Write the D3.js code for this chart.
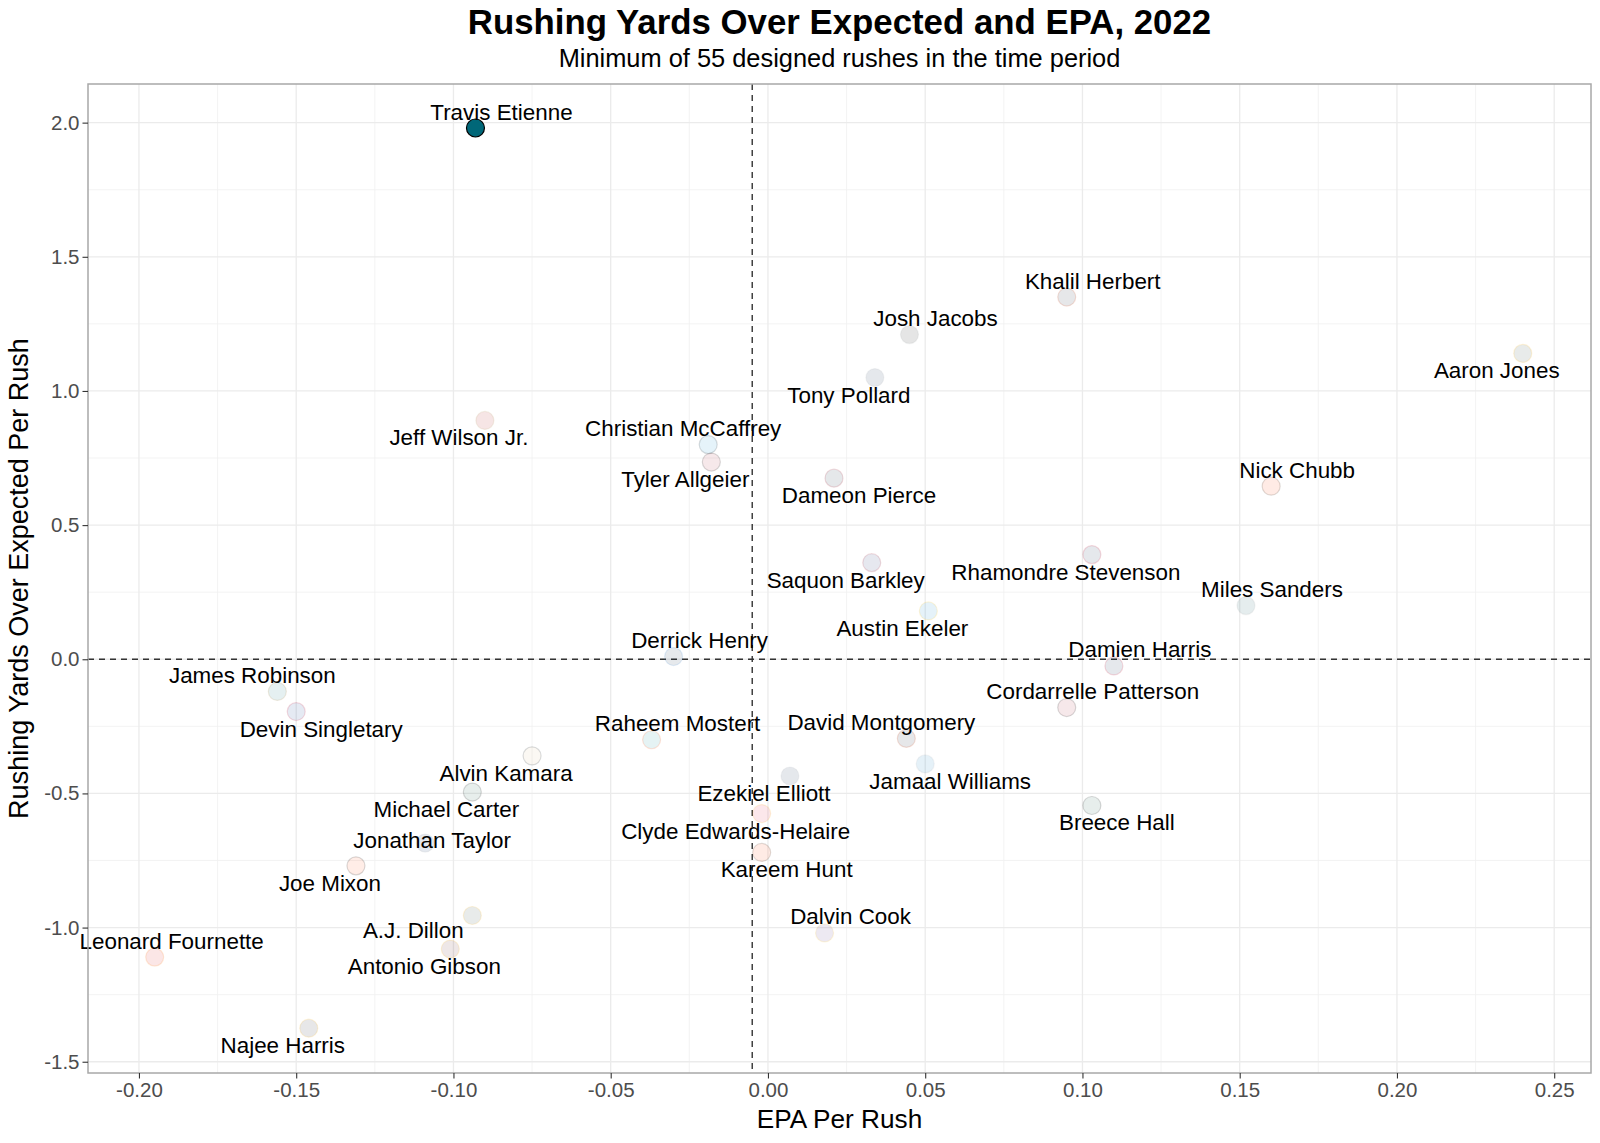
<!DOCTYPE html>
<html>
<head>
<meta charset="utf-8">
<script src="https://cdn.jsdelivr.net/npm/d3@7"></script>
<style>
  html, body { margin: 0; padding: 0; background: #ffffff; }
  svg { display: block; font-family: "Liberation Sans", Arial, Helvetica, sans-serif; }
</style>
</head>
<body>
<svg id="chart" width="1600" height="1143"></svg>
<script>
// ---------------- DATA ----------------
const players = ["Travis Etienne","Khalil Herbert","Josh Jacobs","Aaron Jones","Tony Pollard","Jeff Wilson Jr.",
  "Christian McCaffrey","Tyler Allgeier","Dameon Pierce","Nick Chubb","Rhamondre Stevenson","Saquon Barkley",
  "Miles Sanders","Austin Ekeler","Derrick Henry","Damien Harris","James Robinson","Cordarrelle Patterson",
  "Devin Singletary","David Montgomery","Raheem Mostert","Alvin Kamara","Jamaal Williams","Ezekiel Elliott",
  "Michael Carter","Breece Hall","Clyde Edwards-Helaire","Jonathan Taylor","Joe Mixon","A.J. Dillon",
  "Dalvin Cook","Leonard Fournette","Antonio Gibson","Najee Harris","Kareem Hunt"];
const teams = ["JAX","CHI","LV","GB","DAL","SF","CAR","ATL","HOU","CLE","NE","NYG","PHI","LAC","TEN","NE","JAX","ATL",
  "BUF","CHI","MIA","NO","DET","DAL","NYJ","NYJ","KC","IND","CIN","GB","MIN","TB","WAS","PIT","CLE"];
const epaPerRush = [-0.093,0.095,0.045,0.240,0.034,-0.090,-0.019,-0.018,0.021,0.160,0.103,0.033,0.152,0.051,-0.030,0.110,
  -0.156,0.095,-0.150,0.044,-0.037,-0.075,0.050,0.007,-0.094,0.103,-0.002,-0.109,-0.131,-0.094,0.018,-0.195,-0.101,-0.146,-0.002];
const ryoePerRush = [1.98,1.35,1.21,1.14,1.05,0.89,0.80,0.735,0.675,0.645,0.39,0.36,0.20,0.18,0.01,-0.025,-0.12,-0.18,
  -0.195,-0.295,-0.30,-0.36,-0.39,-0.435,-0.495,-0.545,-0.575,-0.685,-0.77,-0.955,-1.02,-1.11,-1.08,-1.375,-0.72];
// label placement relative to point
const labelPlacement = ["NE","NE","NE","SW","SW","SW","NW","SW","SE","NE","SW","SW","NE","SW","NE","NE","NW","NE",
  "SE","NW","NE","SW","SE","SW","SW","SE","SW","N","SW","WSW","NE","NNE","SW","SW","SE"];
const highlighted = "Travis Etienne";
const xTicks = [-0.20,-0.15,-0.10,-0.05,0.00,0.05,0.10,0.15,0.20,0.25];
const yTicks = [-1.5,-1.0,-0.5,0.0,0.5,1.0,1.5,2.0];
const meanEPA = -0.005;
const titleText = "Rushing Yards Over Expected and EPA, 2022";
const subtitleText = "Minimum of 55 designed rushes in the time period";
const xTitle = "EPA Per Rush";
const yTitle = "Rushing Yards Over Expected Per Rush";

// team colours (primary, secondary)
const teamColors = {
  JAX:["#006778","#9F792C"], CHI:["#0B162A","#C83803"], LV:["#000000","#A5ACAF"], GB:["#203731","#FFB612"],
  DAL:["#002244","#B0B7BC"], SF:["#AA0000","#B3995D"], CAR:["#0085CA","#101820"], ATL:["#A71930","#000000"],
  HOU:["#03202F","#A71930"], CLE:["#FF3C00","#311D00"], NE:["#002244","#C60C30"], NYG:["#0B2265","#A71930"],
  PHI:["#004C54","#A5ACAF"], LAC:["#0080C6","#FFC20E"], TEN:["#0C2340","#4B92DB"], BUF:["#00338D","#C60C30"],
  MIA:["#008E97","#FC4C02"], NO:["#D3BC8D","#101820"], DET:["#0076B6","#B0B7BC"], NYJ:["#125740","#000000"],
  KC:["#E31837","#FFB81C"], IND:["#002C5F","#A2AAAD"], CIN:["#FB4F14","#000000"], MIN:["#4F2683","#FFC62F"],
  TB:["#D50A0A","#FF7900"], WAS:["#5A1414","#FFB612"], PIT:["#101820","#FFB612"]
};

// ---------------- LAYOUT ----------------
const svg = d3.select("#chart");
const W = 1600, H = 1143;
const P = {left: 88, right: 1591, top: 84, bottom: 1073};
const x = d3.scaleLinear().domain([-0.2162, 0.2617]).range([P.left, P.right]);
const y = d3.scaleLinear().domain([-1.542, 2.144]).range([P.bottom, P.top]);

svg.append("rect").attr("width", W).attr("height", H).attr("fill", "#fff");

// grid
const g = svg.append("g");
const xMinor = d3.range(-0.175, 0.26, 0.05).filter(v => v > x.domain()[0] && v < x.domain()[1]);
const yMinor = d3.range(-1.25, 2.1, 0.5).filter(v => v > y.domain()[0] && v < y.domain()[1]);
g.selectAll(".xminor").data(xMinor).enter().append("line")
  .attr("x1", d => x(d)).attr("x2", d => x(d)).attr("y1", P.top).attr("y2", P.bottom)
  .attr("stroke", "#f0f0f0").attr("stroke-width", 0.8);
g.selectAll(".yminor").data(yMinor).enter().append("line")
  .attr("y1", d => y(d)).attr("y2", d => y(d)).attr("x1", P.left).attr("x2", P.right)
  .attr("stroke", "#f0f0f0").attr("stroke-width", 0.8);
g.selectAll(".xmajor").data(xTicks).enter().append("line")
  .attr("x1", d => x(d)).attr("x2", d => x(d)).attr("y1", P.top).attr("y2", P.bottom)
  .attr("stroke", "#ebebeb").attr("stroke-width", 1.3);
g.selectAll(".ymajor").data(yTicks).enter().append("line")
  .attr("y1", d => y(d)).attr("y2", d => y(d)).attr("x1", P.left).attr("x2", P.right)
  .attr("stroke", "#ebebeb").attr("stroke-width", 1.3);

// reference lines
svg.append("line").attr("x1", P.left).attr("x2", P.right).attr("y1", y(0)).attr("y2", y(0))
  .attr("stroke", "#333").attr("stroke-width", 1.4).attr("stroke-dasharray", "6,5");
svg.append("line").attr("x1", x(meanEPA)).attr("x2", x(meanEPA)).attr("y1", P.top).attr("y2", P.bottom)
  .attr("stroke", "#333").attr("stroke-width", 1.4).attr("stroke-dasharray", "6,5");

// points
const data = players.map((p, i) => ({name: p, team: teams[i], x: epaPerRush[i], y: ryoePerRush[i], pos: labelPlacement[i]}));
const ordered = data.filter(d => d.name !== highlighted).concat(data.filter(d => d.name === highlighted));
svg.append("g").selectAll("circle").data(ordered).enter().append("circle")
  .attr("cx", d => x(d.x)).attr("cy", d => y(d.y)).attr("r", 9)
  .attr("fill", d => teamColors[d.team][0])
  .attr("fill-opacity", d => d.name === highlighted ? 1 : 0.1)
  .attr("stroke", d => d.name === highlighted ? "#000" : teamColors[d.team][1])
  .attr("stroke-opacity", d => d.name === highlighted ? 1 : 0.15)
  .attr("stroke-width", 1.2);

// labels
const offsets = {NE:[26,-16], SW:[-26,17.5], NW:[-25,-16], SE:[25,17.5], N:[7,-3], WSW:[-59,15], NNE:[17,-15.5]};
svg.append("g").selectAll("text").data(data).enter().append("text")
  .attr("x", d => x(d.x) + offsets[d.pos][0])
  .attr("y", d => y(d.y) + offsets[d.pos][1])
  .attr("text-anchor", "middle").attr("dominant-baseline", "central")
  .attr("font-size", 22.4).attr("fill", "#000").text(d => d.name);

// panel border
svg.append("rect").attr("x", P.left).attr("y", P.top).attr("width", P.right - P.left).attr("height", P.bottom - P.top)
  .attr("fill", "none").attr("stroke", "#a8a8a8").attr("stroke-width", 1.5);

// axes
const xAxis = svg.append("g").attr("transform", `translate(0,${P.bottom})`)
  .call(d3.axisBottom(x).tickValues(xTicks).tickFormat(d3.format(".2f")).tickSize(5.5).tickPadding(4));
const yAxis = svg.append("g").attr("transform", `translate(${P.left},0)`)
  .call(d3.axisLeft(y).tickValues(yTicks).tickFormat(d3.format(".1f")).tickSize(5.5).tickPadding(3));
[xAxis, yAxis].forEach(a => {
  a.select(".domain").remove();
  a.selectAll(".tick line").attr("stroke", "#333").attr("stroke-width", 1.1);
  a.selectAll(".tick text").attr("fill", "#4d4d4d").attr("font-size", 20.5)
    .attr("font-family", "'Liberation Sans', Arial, Helvetica, sans-serif");
});
xAxis.selectAll(".tick text").text(d => d3.format(".2f")(d).replace("−", "-"));
yAxis.selectAll(".tick text").text(d => d3.format(".1f")(d).replace("−", "-"));

// titles
const cx = (P.left + P.right) / 2;
svg.append("text").attr("x", cx).attr("y", 34).attr("text-anchor", "middle")
  .attr("font-size", 34.8).attr("font-weight", "bold").attr("fill", "#000").text(titleText);
svg.append("text").attr("x", cx).attr("y", 67).attr("text-anchor", "middle")
  .attr("font-size", 25.4).attr("fill", "#000").text(subtitleText);
svg.append("text").attr("x", cx).attr("y", 1128).attr("text-anchor", "middle")
  .attr("font-size", 26.2).attr("fill", "#000").text(xTitle);
svg.append("text").attr("transform", `translate(28,${(P.top + P.bottom) / 2}) rotate(-90)`)
  .attr("text-anchor", "middle").attr("font-size", 27).attr("fill", "#000").text(yTitle);
</script>
</body>
</html>
